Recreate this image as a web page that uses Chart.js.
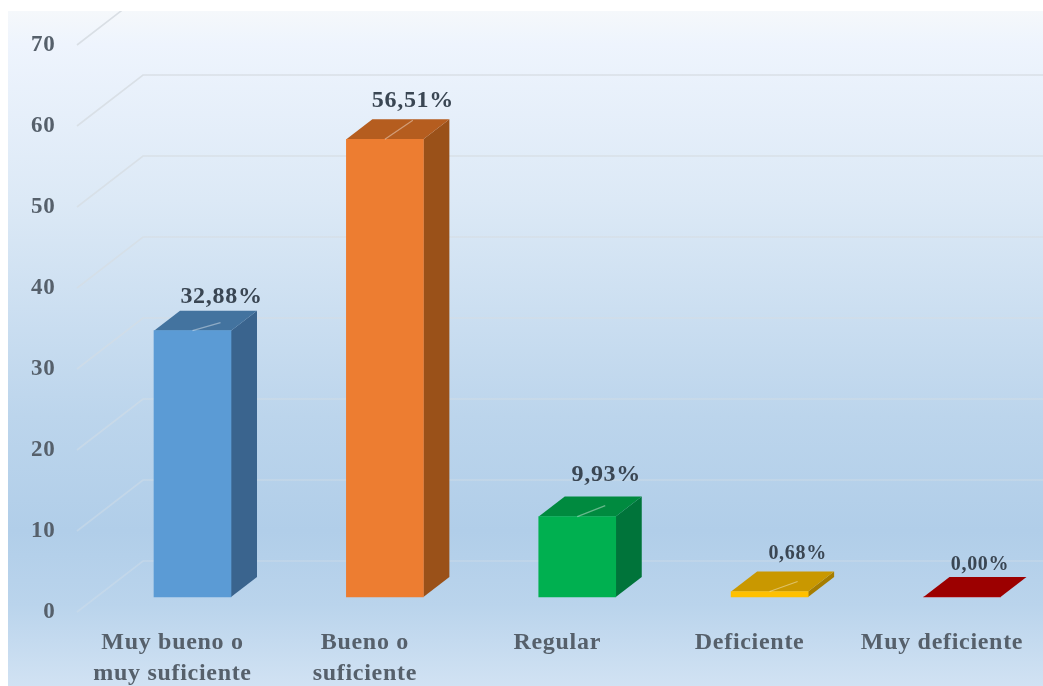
<!DOCTYPE html>
<html lang="es"><head><meta charset="utf-8">
<style>html,body{margin:0;padding:0;background:#fff;overflow:hidden}canvas{display:block;filter:blur(.45px)}</style>
<script src="https://cdn.jsdelivr.net/npm/chart.js@4"></script></head>
<body><canvas id="c" width="1043" height="686"></canvas>
<script>
const categories=[["Muy bueno o","muy suficiente"],["Bueno o","suficiente"],"Regular","Deficiente","Muy deficiente"];
const values=[32.88,56.51,9.93,0.68,0.00];
const valueLabels=["32,88%","56,51%","9,93%","0,68%","0,00%"];
const frontColors=["#5b9bd5","#ed7d31","#00b050","#ffc000","#c00000"];
const sideColors=["#3a648e","#9a5119","#00743a","#a67d00","#7d0000"];
const topColors=["#43739f","#b55d1f","#008a3f","#c99800","#9c0000"];
const labelSizes=[24,24,24,20,20];
const labelRise=[34,38,42,38,32];
const labelShift=[29,28,29,28,18];
const leaderRise=[8,19,11,10,0];
const yTicks=[0,10,20,30,40,50,60,70];

const depth={dx:26,dy:20}, wall={fy:15,by:36,left:77,edge:143};
const TXT='#56606b';

const scene={
 id:'scene',
 beforeDraw(chart){
  const {ctx,width,height}=chart;
  ctx.save();
  const g=ctx.createLinearGradient(0,11,0,686);
  [[0,'#f5f8fb'],[.05,'#eef4fd'],[.28,'#dce9f6'],[.6,'#bcd5ec'],[.77,'#b1cee9'],[.88,'#bad4ec'],[1,'#d1e2f3']]
   .forEach(s=>g.addColorStop(s[0],s[1]));
  ctx.fillStyle=g;ctx.fillRect(8,11,width-8,height-11);
  ctx.beginPath();ctx.rect(8,11,width-8,height-11);ctx.clip();
  const y=chart.scales.y;
  const lg=ctx.createLinearGradient(0,11,0,620);
  lg.addColorStop(0,'rgba(210,216,222,0.8)');
  lg.addColorStop(.4,'rgba(214,220,224,0.6)');
  lg.addColorStop(1,'rgba(214,224,232,0.35)');
  ctx.strokeStyle=lg;ctx.lineWidth=1.6;
  yTicks.forEach(v=>{
   const p=y.getPixelForValue(v);
   ctx.beginPath();ctx.moveTo(wall.left,p+wall.fy);ctx.lineTo(wall.edge,p-wall.by);ctx.lineTo(width,p-wall.by);ctx.stroke();
  });
  ctx.restore();
  ctx.letterSpacing='0.7px';
 },
 beforeDatasetsDraw(chart){
  const {ctx}=chart;
  const els=chart.getDatasetMeta(0).data;
  ctx.save();
  els.forEach((b,i)=>{
   const l=b.x-b.width/2,r=b.x+b.width/2,t=b.y,base=b.base;
   ctx.fillStyle=sideColors[i];ctx.beginPath();
   ctx.moveTo(r,t);ctx.lineTo(r+depth.dx,t-depth.dy);ctx.lineTo(r+depth.dx,base-depth.dy);ctx.lineTo(r,base);ctx.closePath();ctx.fill();
   ctx.fillStyle=topColors[i];ctx.beginPath();
   ctx.moveTo(l,t);ctx.lineTo(l+depth.dx,t-depth.dy);ctx.lineTo(r+depth.dx,t-depth.dy);ctx.lineTo(r,t);ctx.closePath();ctx.fill();
  });
  ctx.restore();
 },
 afterDatasetsDraw(chart){
  const {ctx}=chart;
  const els=chart.getDatasetMeta(0).data;
  ctx.save();
  ctx.textAlign='center';ctx.textBaseline='middle';
  els.forEach((b,i)=>{
   if(values[i]>0){
    ctx.strokeStyle='rgba(255,255,255,0.4)';ctx.lineWidth=1.2;ctx.beginPath();
    ctx.moveTo(b.x,b.y);ctx.lineTo(b.x+28,b.y-leaderRise[i]);ctx.stroke();
   }
   ctx.font='bold '+labelSizes[i]+'px "Liberation Serif"';
   ctx.fillStyle='#3a4653';
   ctx.fillText(valueLabels[i],b.x+labelShift[i],b.y-labelRise[i]);
  });
  ctx.restore();
 }
};

new Chart(document.getElementById('c'),{
 type:'bar',
 data:{labels:categories,datasets:[{data:values,backgroundColor:frontColors,barThickness:77,clip:false,borderWidth:0}]},
 plugins:[scene],
 options:{
  responsive:false,animation:false,
  layout:{padding:{top:30,right:81,bottom:0,left:0}},
  plugins:{legend:{display:false},tooltip:{enabled:false},title:{display:false}},
  scales:{
   x:{offset:false,grid:{display:false,drawTicks:false},border:{display:false},
      afterFit(s){s.height=89;s.paddingLeft=0;s.paddingRight=0;},
      ticks:{autoSkip:false,maxRotation:0,minRotation:0,padding:30,labelOffset:-20,color:TXT,
             font:{family:'"Liberation Serif"',size:24,weight:'bold',lineHeight:1.3}}},
   y:{min:0,max:70,grid:{display:false,drawTicks:false},border:{display:false},
      afterFit(s){s.width=192.5;s.paddingTop=0;s.paddingBottom=0;},
      ticks:{stepSize:10,padding:137,labelOffset:15,color:TXT,
             font:{family:'"Liberation Serif"',size:23,weight:'bold'}}}
  }
 }
});
</script></body></html>
